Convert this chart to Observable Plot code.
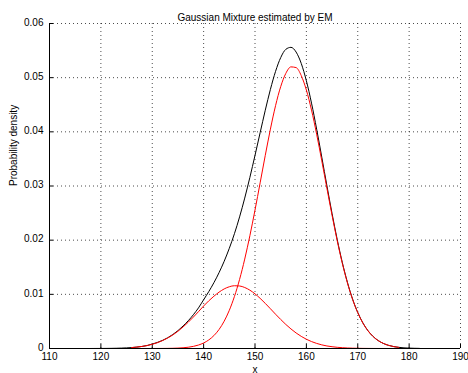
<!DOCTYPE html>
<html>
<head>
<meta charset="utf-8">
<script src="https://cdn.jsdelivr.net/npm/d3@7"></script>
<script src="https://cdn.jsdelivr.net/npm/@observablehq/plot@0.6"></script>
<style>
  html, body { margin: 0; padding: 0; background: #fff; }
  #chart svg { display: block; }
</style>
</head>
<body>
<div id="chart"></div>
<script>
const titleText = "Gaussian Mixture estimated by EM";
const xLabel = "x";
const yLabel = "Probability density";
const xTicks = [110, 120, 130, 140, 150, 160, 170, 180, 190];
const yTicks = [0, 0.01, 0.02, 0.03, 0.04, 0.05, 0.06];

// Mixture density (black), sampled from x = 118 to 182
const xTotal = [118,119,120,121,122,123,124,125,126,127,128,129,130,131,132,133,134,135,136,137,138,139,140,141,142,143,144,145,146,147,148,149,150,151,152,153,154,155,156,157,158,159,160,161,162,163,164,165,166,167,168,169,170,171,172,173,174,175,176,177,178,179,180,181,182];
const totalDensity = [0.000003,0.000006,0.00001,0.000017,0.000028,0.000046,0.000073,0.000113,0.000173,0.00026,0.00038,0.00055,0.00082,0.00112,0.00150,0.00198,0.00258,0.00330,0.00415,0.00512,0.00623,0.00750,0.00900,0.01050,0.01215,0.01400,0.01610,0.01850,0.02120,0.02430,0.02777,0.03158,0.03565,0.03984,0.04399,0.04784,0.05116,0.05370,0.05523,0.05560,0.05473,0.05263,0.04942,0.04530,0.04050,0.03532,0.03004,0.02491,0.02013,0.01586,0.01218,0.00911,0.00665,0.00472,0.00327,0.00221,0.00145,0.00093,0.00058,0.00035,0.00021,0.00012,0.00007,0.00004,0.00002];

// Components (red), sampled from x = 126 to 178
const xComp = [126,127,128,129,130,131,132,133,134,135,136,137,138,139,140,141,142,143,144,145,146,147,148,149,150,151,152,153,154,155,156,157,158,159,160,161,162,163,164,165,166,167,168,169,170,171,172,173,174,175,176,177,178];
const component1 = [0.000173,0.000259,0.00038,0.000547,0.00078,0.00107,0.00146,0.00193,0.00250,0.00318,0.00398,0.00485,0.00580,0.00680,0.00785,0.00880,0.00965,0.01040,0.01100,0.01140,0.01159,0.01154,0.01126,0.01077,0.01009,0.00926,0.00833,0.00734,0.00633,0.00536,0.00444,0.00361,0.00287,0.00224,0.00171,0.00128,0.00094,0.00067,0.00047,0.00033,0.00022,0.00015,0.000095,0.00006,0.000038,0.000023,0.000014,0.000008,0.000005,0.000003,0.000002,0.000001,0.0];
const component2 = [0.0,0.0,0.000001,0.000002,0.000003,0.000006,0.000012,0.000023,0.000042,0.000076,0.000135,0.000232,0.00039,0.00064,0.00102,0.00158,0.00238,0.00351,0.00504,0.00705,0.00961,0.01276,0.01651,0.02081,0.02556,0.03058,0.03566,0.04050,0.04483,0.04834,0.05079,0.05199,0.05186,0.05039,0.04771,0.04402,0.03956,0.03465,0.02957,0.02458,0.01991,0.01571,0.01208,0.00905,0.00661,0.00470,0.00326,0.00220,0.00145,0.00093,0.00058,0.00035,0.00021];

const totalData = xTotal.map((x, i) => ({x, y: totalDensity[i]}));
const comp1Data = xComp.map((x, i) => ({x, y: component1[i]}));
const comp2Data = xComp.map((x, i) => ({x, y: component2[i]}));

const font = "'Liberation Sans', Arial, Helvetica, sans-serif";

const chart = Plot.plot({
  width: 468,
  height: 373,
  marginLeft: 49,
  marginRight: 8,
  marginTop: 23,
  marginBottom: 25,
  style: {fontFamily: font, fontSize: "10px", background: "#fff", color: "#000", overflow: "visible"},
  x: {domain: [110, 190]},
  y: {domain: [0, 0.06]},
  marks: [
    Plot.gridX(xTicks, {stroke: "#000", strokeOpacity: 0.7, strokeDasharray: "1,3", strokeWidth: 1}),
    Plot.gridY(yTicks, {stroke: "#000", strokeOpacity: 0.7, strokeDasharray: "1,3", strokeWidth: 1}),
    Plot.axisX({ticks: xTicks, tickSize: 0, tickPadding: 4, label: null, tickFormat: d => String(d), fill: "#000", fontSize: 10}),
    Plot.axisY({ticks: yTicks, tickSize: 0, tickPadding: 6, label: null, tickFormat: d => d === 0 ? "0" : d.toFixed(2), fill: "#000", fontSize: 10, dy: -1}),
    Plot.ruleX(xTicks, {x: d => d, y1: 0, y2: 0, insetTop: -4, stroke: "#000"}),
    Plot.ruleY(yTicks, {y: d => d, x1: 110, x2: 110, insetRight: -4, stroke: "#000"}),
    Plot.line(totalData, {x: "x", y: "y", stroke: "#000", strokeWidth: 1, curve: "monotone-x"}),
    Plot.line(comp1Data, {x: "x", y: "y", stroke: "#ff0000", strokeWidth: 1, curve: "monotone-x"}),
    Plot.line(comp2Data, {x: "x", y: "y", stroke: "#ff0000", strokeWidth: 1, curve: "monotone-x"}),
    Plot.ruleY([0], {stroke: "#000", strokeWidth: 1}),
    Plot.ruleX([110], {stroke: "#000", strokeWidth: 1}),
    Plot.text([titleText], {frameAnchor: "top", dy: -10, fontSize: 10, fill: "#000"}),
    Plot.text([xLabel], {frameAnchor: "bottom", dy: 24, lineAnchor: "bottom", fontSize: 10, fill: "#000"}),
    Plot.text([yLabel], {frameAnchor: "left", dx: -36, rotate: -90, fontSize: 10, fill: "#000"})
  ]
});

document.getElementById("chart").appendChild(chart);
</script>
</body>
</html>
